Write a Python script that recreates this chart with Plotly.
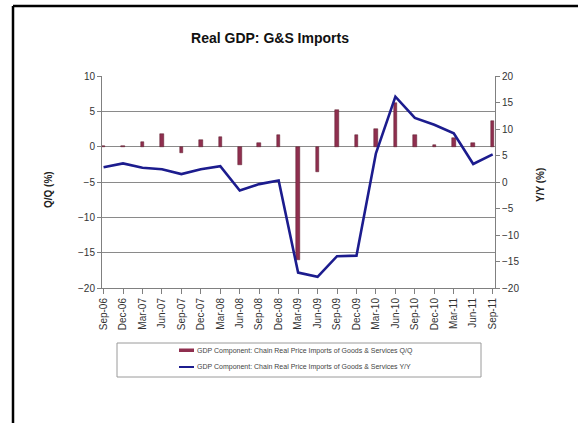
import plotly.graph_objects as go

categories = ["Sep-06", "Dec-06", "Mar-07", "Jun-07", "Sep-07", "Dec-07", "Mar-08",
              "Jun-08", "Sep-08", "Dec-08", "Mar-09", "Jun-09", "Sep-09", "Dec-09",
              "Mar-10", "Jun-10", "Sep-10", "Dec-10", "Mar-11", "Jun-11", "Sep-11"]
qq_values = [0.05, 0.1, 0.7, 1.8, -0.85, 0.95, 1.35, -2.6, 0.5, 1.6, -16.0,
             -3.65, 5.2, 1.7, 2.5, 6.2, 1.7, 0.2, 1.2, 0.55, 3.6]
yy_values = [2.8, 3.5, 2.7, 2.4, 1.5, 2.4, 3.0, -1.6, -0.4, 0.3, -17.1,
             -17.9, -14.0, -13.9, 5.4, 16.1, 12.1, 10.8, 9.2, 3.4, 5.2]
left_ticks = [10, 5, 0, -5, -10, -15, -20]
right_ticks = [20, 15, 10, 5, 0, -5, -10, -15, -20]
qq_name = "GDP Component: Chain Real Price Imports of Goods & Services Q/Q"
yy_name = "GDP Component: Chain Real Price Imports of Goods & Services Y/Y"

BAR = "#8f2f4f"
LINE = "#1c1c8e"
FONT = "Liberation Sans, Arial, sans-serif"

# plot-area pixel geometry
L, R, T, B = 102, 495, 76, 288
W, H = R - L, B - T

def px(x):
    return (x - L) / W

def py(y):
    return (B - y) / H

fig = go.Figure()
fig.add_trace(go.Bar(x=categories, y=qq_values, name=qq_name, width=0.18,
                     marker=dict(color=BAR, line=dict(color="#5a1a2a", width=0.5)),
                     showlegend=False))
fig.add_trace(go.Scatter(x=categories, y=yy_values, name=yy_name, mode="lines",
                         line=dict(color=LINE, width=2.6), yaxis="y2",
                         showlegend=False))

shapes = [
    # outer frame (top and left visible)
    dict(type="line", xref="paper", yref="paper", x0=px(13), x1=px(590), y0=py(6), y1=py(6),
         line=dict(color="black", width=2.5)),
    dict(type="line", xref="paper", yref="paper", x0=px(13), x1=px(13), y0=py(6), y1=py(440),
         line=dict(color="black", width=2.5)),
    # legend box
    dict(type="rect", xref="paper", yref="paper", x0=px(117), x1=px(481), y0=py(343), y1=py(377),
         line=dict(color="#9a9a9a", width=1), fillcolor="white"),
    dict(type="rect", xref="paper", yref="paper", x0=px(179), x1=px(194), y0=py(348.5), y1=py(352),
         line=dict(width=0), fillcolor=BAR),
    dict(type="line", xref="paper", yref="paper", x0=px(179), x1=px(194), y0=py(367), y1=py(367),
         line=dict(color=LINE, width=2)),
]

annotations = [
    dict(text=qq_name, xref="paper", yref="paper", x=px(195), y=py(350.5), xanchor="left",
         yanchor="middle", showarrow=False, font=dict(family=FONT, size=7, color="#444")),
    dict(text=yy_name, xref="paper", yref="paper", x=px(195), y=py(367), xanchor="left",
         yanchor="middle", showarrow=False, font=dict(family=FONT, size=7, color="#444")),
    dict(text="<b>Q/Q (%)</b>", xref="paper", yref="paper", x=px(48), y=py(190), textangle=-90,
         xanchor="center", yanchor="middle", showarrow=False,
         font=dict(family=FONT, size=10, color="#222")),
    dict(text="<b>Y/Y (%)</b>", xref="paper", yref="paper", x=px(540), y=py(185), textangle=-90,
         xanchor="center", yanchor="middle", showarrow=False,
         font=dict(family=FONT, size=10, color="#222")),
]

fig.update_layout(
    width=578, height=423,
    margin=dict(l=L, r=578 - R, t=T, b=423 - B, pad=0),
    paper_bgcolor="white", plot_bgcolor="white",
    font=dict(family=FONT, size=10, color="#333"),
    title=dict(text="<b>Real GDP: G&S Imports</b>", x=270 / 578, xanchor="center",
               y=1 - 38 / 423, yanchor="middle", xref="container", yref="container",
               font=dict(family=FONT, size=14, color="#111")),
    showlegend=False,
    bargap=0,
    xaxis=dict(type="category", range=[-0.08, 20.12], showgrid=False,
               tickangle=-90, tickfont=dict(size=10, color="#333"),
               showline=True, linecolor="#808080", linewidth=1,
               ticks="outside", ticklen=5, tickcolor="#808080"),
    yaxis=dict(range=[-20, 10], tickvals=left_ticks, showgrid=True, gridcolor="#8a8a8a",
               gridwidth=1, zeroline=False, showline=True, linecolor="#808080",
               ticks="outside", ticklen=4, tickcolor="#808080",
               tickfont=dict(size=10, color="#333")),
    yaxis2=dict(range=[-20, 20], tickvals=right_ticks, overlaying="y", side="right",
                showgrid=False, zeroline=False, showline=True, linecolor="#808080",
                ticks="outside", ticklen=4, tickcolor="#808080",
                tickfont=dict(size=10, color="#333")),
    shapes=shapes,
    annotations=annotations,
)

fig.write_html("out.html", config={"displayModeBar": False},
               post_script="document.body.style.margin='0px';document.body.style.overflow='hidden';")
